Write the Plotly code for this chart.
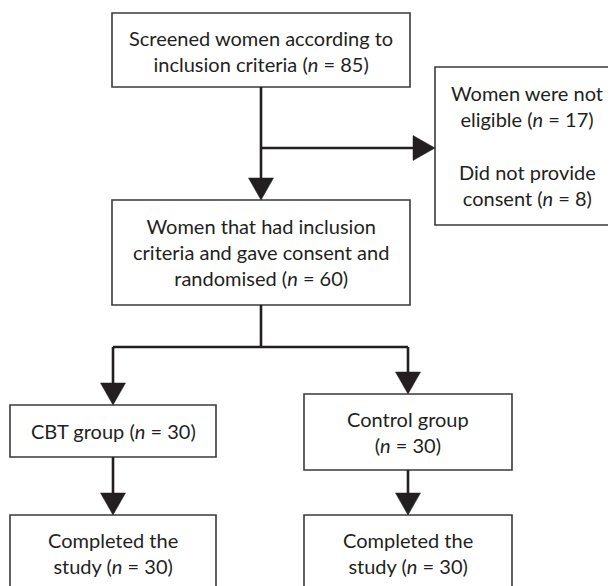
import plotly.graph_objects as go

# ---- data ----
screened_n = 85
not_eligible_n = 17
no_consent_n = 8
randomised_n = 60
cbt_n = 30
control_n = 30
cbt_completed_n = 30
control_completed_n = 30

N = "(<i>n</i> = {})"
labels = {
    "screened": "Screened women according to<br>inclusion criteria " + N.format(screened_n),
    "not_eligible": "Women were not<br>eligible " + N.format(not_eligible_n),
    "no_consent": "Did not provide<br>consent " + N.format(no_consent_n),
    "random": "Women that had inclusion<br>criteria and gave consent and<br>randomised " + N.format(randomised_n),
    "cbt": "CBT group " + N.format(cbt_n),
    "control": "Control group<br>" + N.format(control_n),
    "cbt_done": "Completed the<br>study " + N.format(cbt_completed_n),
    "control_done": "Completed the<br>study " + N.format(control_completed_n),
}

# ---- layout (pixel geometry, reference image coordinates) ----
W, H = 616, 586
OFF = 8  # page body margin
boxes = {  # x0, x1, y0, y1
    "screened": (112, 410, 13, 87),
    "excluded": (435, 650, 67, 225),
    "random": (112, 410, 200, 305),
    "cbt": (10, 216, 405, 457),
    "control": (304, 512, 394, 470),
    "cbt_done": (10, 216, 515, 640),
    "control_done": (304, 512, 515, 640),
}
text_pos = {  # x, y centre of each label
    "screened": (261, 51),
    "not_eligible": (527, 106),
    "no_consent": (527, 185),
    "random": (261, 252),
    "cbt": (113, 431),
    "control": (408, 432),
    "cbt_done": (113, 553),
    "control_done": (408, 553),
}

INK = "#231f20"
LW = 2.6
fig = go.Figure()
shapes = []
annotations = []

for k, (x0, x1, y0, y1) in boxes.items():
    shapes.append(dict(type="rect", x0=x0, x1=x1, y0=y0, y1=y1,
                       line=dict(color="#3a3a3a", width=1.6), fillcolor="white", layer="below"))
for k, (x, y) in text_pos.items():
    annotations.append(dict(x=x, y=y, text=labels[k], showarrow=False,
                            xanchor="center", yanchor="middle", align="center",
                            font=dict(family="Lato", size=20, color=INK)))

def line(x0, y0, x1, y1):
    shapes.append(dict(type="line", x0=x0, y0=y0, x1=x1, y1=y1,
                       line=dict(color=INK, width=LW)))

def arrow_down(x, y_tip, L=22, hw=12.5):
    shapes.append(dict(type="path", path=f"M {x-hw} {y_tip-L} L {x+hw} {y_tip-L} L {x} {y_tip} Z",
                       fillcolor=INK, line=dict(color=INK, width=0.5)))

def arrow_right(x_tip, y, L=22, hw=12.5):
    shapes.append(dict(type="path", path=f"M {x_tip-L} {y-hw} L {x_tip-L} {y+hw} L {x_tip} {y} Z",
                       fillcolor=INK, line=dict(color=INK, width=0.5)))

cx = 261
line(cx, 87, cx, 182)
arrow_down(cx, 200)
line(cx, 148, 415, 148)
arrow_right(435, 148)
line(cx, 305, cx, 347)
line(113, 347, 408, 347)
line(113, 347, 113, 387)
arrow_down(113, 405)
line(408, 347, 408, 376)
arrow_down(408, 394)
line(113, 457, 113, 497)
arrow_down(113, 515)
line(408, 470, 408, 497)
arrow_down(408, 515)

fig.update_layout(
    width=W, height=H, margin=dict(l=0, r=0, t=0, b=0),
    paper_bgcolor="white", plot_bgcolor="white",
    xaxis=dict(range=[OFF, W + OFF], visible=False, fixedrange=True),
    yaxis=dict(range=[H + OFF, OFF], visible=False, fixedrange=True),
    shapes=shapes, annotations=annotations, showlegend=False,
)
fig.write_html("out.html")
